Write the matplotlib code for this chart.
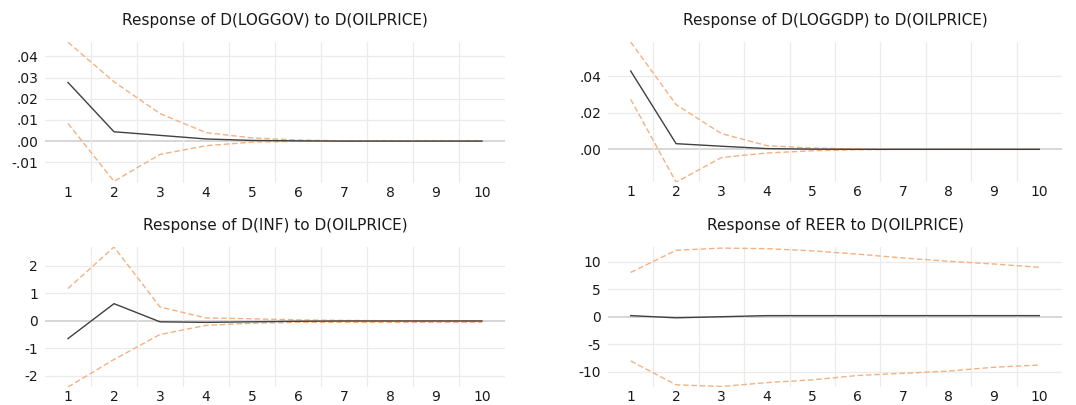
import numpy as np
import matplotlib.pyplot as plt
from matplotlib.ticker import FuncFormatter

plt.rcParams['axes.unicode_minus'] = False

periods = np.arange(1, 11)

# D(LOGGOV)
gov_resp = [0.0277, 0.0044, 0.0027, 0.0010, 0.0003, 0.0001, 0.0, 0.0, 0.0, 0.0]
gov_up = [0.0467, 0.0280, 0.0130, 0.0040, 0.0015, 0.0005, 0.0001, 0.0, 0.0, 0.0]
gov_lo = [0.0083, -0.0190, -0.0063, -0.0022, -0.0005, -0.0001, 0.0, 0.0, 0.0, 0.0]

# D(LOGGDP)
gdp_resp = [0.0429, 0.0031, 0.0017, 0.0004, 0.0001, 0.0, 0.0, 0.0, 0.0, 0.0]
gdp_up = [0.0588, 0.0245, 0.0086, 0.0020, 0.0007, 0.0002, 0.0, 0.0, 0.0, 0.0]
gdp_lo = [0.0274, -0.0180, -0.0045, -0.0020, -0.0008, -0.0002, 0.0, 0.0, 0.0, 0.0]

# D(INF)
inf_resp = [-0.64, 0.63, -0.03, -0.05, -0.03, -0.01, 0.0, 0.0, 0.0, 0.0]
inf_up = [1.18, 2.69, 0.51, 0.11, 0.08, 0.04, 0.02, 0.01, 0.01, 0.01]
inf_lo = [-2.40, -1.40, -0.49, -0.16, -0.08, -0.05, -0.05, -0.05, -0.05, -0.05]

# REER
reer_resp = [0.2, -0.2, 0.0, 0.2, 0.2, 0.2, 0.2, 0.2, 0.2, 0.2]
reer_up = [8.07, 12.1, 12.5, 12.4, 12.0, 11.4, 10.7, 10.1, 9.6, 9.0]
reer_lo = [-8.05, -12.4, -12.7, -12.0, -11.5, -10.7, -10.3, -9.9, -9.2, -8.8]

panels = [
    ("Response of D(LOGGOV) to D(OILPRICE)", gov_resp, gov_up, gov_lo,
     [-0.01, 0.0, 0.01, 0.02, 0.03, 0.04], (-0.0198, 0.0468), True),
    ("Response of D(LOGGDP) to D(OILPRICE)", gdp_resp, gdp_up, gdp_lo,
     [0.0, 0.02, 0.04], (-0.0179, 0.0588), True),
    ("Response of D(INF) to D(OILPRICE)", inf_resp, inf_up, inf_lo,
     [-2, -1, 0, 1, 2], (-2.4, 2.69), False),
    ("Response of REER to D(OILPRICE)", reer_resp, reer_up, reer_lo,
     [-10, -5, 0, 5, 10], (-12.8, 12.7), False),
]

W, H = 1076, 405
boxes = [(45, 505, 42, 183), (608, 1062, 42, 182),
         (45, 505, 247, 387), (608, 1062, 247, 387)]


def dotfmt(v, pos):
    s = "%.2f" % v
    if s == "-0.00":
        s = "0.00"
    return s.replace("0.", ".", 1)


fig = plt.figure(figsize=(W / 100, H / 100), dpi=100)
for (title, resp, up, lo, yt, ylim, dec), (l, r, t, b) in zip(panels, boxes):
    ax = fig.add_axes([l / W, 1 - b / H, (r - l) / W, (b - t) / H])
    for yv in yt:
        ax.axhline(yv, color='#d6d6d6' if yv == 0 else '#ebebeb',
                   lw=1.4 if yv == 0 else 0.9, zorder=0)
    for xv in np.arange(1.5, 10, 1):
        ax.axvline(xv, color='#ebebeb', lw=0.9, zorder=0)
    ax.plot(periods, up, color='#f4b183', lw=1.0, ls=(0, (4, 2)))
    ax.plot(periods, lo, color='#f4b183', lw=1.0, ls=(0, (4, 2)))
    ax.plot(periods, resp, color='#404040', lw=1.0)
    ax.set_xlim(0.5, 10.5)
    ax.set_ylim(*ylim)
    ax.set_xticks(periods)
    ax.set_yticks(yt)
    if dec:
        ax.yaxis.set_major_formatter(FuncFormatter(dotfmt))
    for s in ax.spines.values():
        s.set_visible(False)
    ax.tick_params(length=0, labelsize=10, colors='#1a1a1a', pad=5)
    ax.tick_params(axis='x', pad=2.5)
    ax.set_title(title, fontsize=11, color='#1a1a1a', pad=12)

fig.savefig('out.png', dpi=100)
